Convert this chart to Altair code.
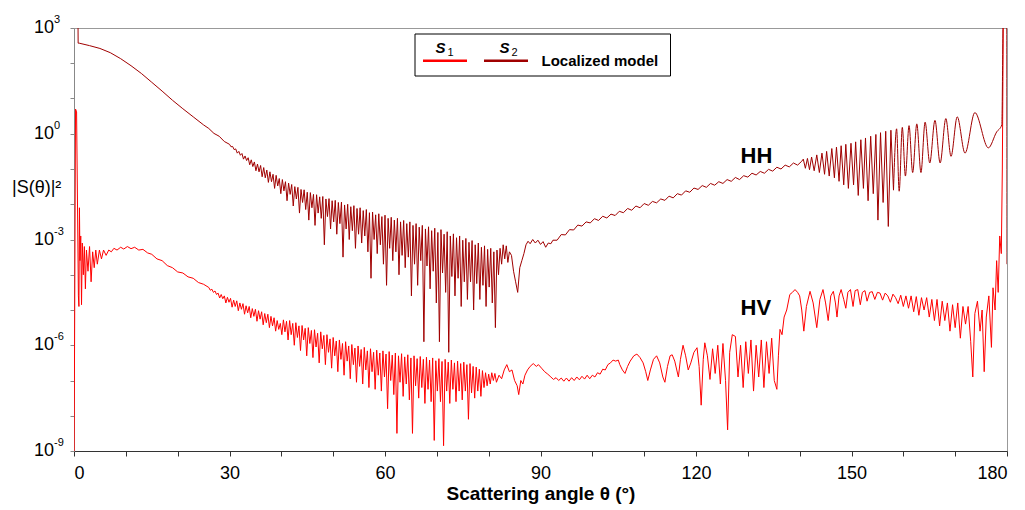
import altair as alt
import pandas as pd

# ---------------- data (log10 of |S(theta)|^2) ----------------
# HH (S2, dark red)
HH_HEAD = [(0.0, 3.6), (0.75, 3.6), (0.8, 2.57), (1, 2.57), (3, 2.5), (5, 2.42), (7, 2.3),
           (9, 2.13), (11, 1.93), (13, 1.71), (15, 1.46), (17, 1.21), (19, 0.95), (21, 0.71),
           (23, 0.48), (25, 0.25), (26, 0.15), (27, 0.01), (28, -0.07), (29, -0.22)]
HH_DENSE_START, HH_DENSE_STEP = 30.0, 0.3
HH_DENSE = [-0.30, -0.37, -0.36, -0.45, -0.43, -0.55, -0.50, -0.61, -0.56, -0.72,
            -0.63, -0.76, -0.68, -0.88, -0.74, -0.93, -0.80, -1.05, -0.86, -1.08,
            -0.90, -1.22, -0.96, -1.25, -1.03, -1.38, -1.08, -1.36, -1.15, -1.55,
            -1.18, -1.48, -1.27, -1.70, -1.30, -1.62, -1.36, -1.90, -1.40, -1.72,
            -1.44, -2.05, -1.50, -1.85, -1.52, -2.25, -1.58, -1.95, -1.59, -2.15,
            -1.66, -2.45, -1.67, -2.10, -1.72, -2.60, -1.73, -2.25, -1.79, -2.40,
            -1.78, -3.15, -1.85, -2.35, -1.84, -2.70, -1.90, -2.50, -1.89, -2.85,
            -1.95, -2.55, -1.94, -3.50, -2.02, -2.70, -2.00, -3.00, -2.07, -2.75,
            -2.04, -3.25, -2.12, -2.85, -2.10, -3.10, -2.18, -2.90, -2.15, -3.35,
            -2.24, -4.10, -2.22, -3.00, -2.30, -3.40, -2.27, -3.15, -2.35, -3.70,
            -2.31, -4.30, -2.40, -3.25, -2.37, -3.60, -2.45, -3.35, -2.40, -4.00,
            -2.50, -3.45, -2.46, -3.80, -2.55, -3.50, -2.50, -4.60, -2.60, -3.70,
            -2.55, -4.30, -2.65, -3.60, -2.60, -5.90, -2.70, -3.75, -2.64, -4.40,
            -2.75, -3.90, -2.68, -4.80, -2.80, -5.90, -2.72, -3.95, -2.85, -4.50,
            -2.78, -6.20, -2.90, -4.05, -2.84, -4.60, -2.95, -4.10, -2.90, -4.90,
            -3.02, -4.20, -2.97, -4.70, -3.08, -4.20, -3.03, -5.00, -3.15, -4.25,
            -3.10, -4.70, -3.22, -4.30, -3.18, -4.90, -3.28, -4.35, -3.25, -4.80,
            -3.35, -5.50, -3.30, -4.00, -3.25, -3.70, -3.15, -3.55, -3.18, -3.65]
HH_MID = [(84.0, -3.35), (84.4, -3.45), (84.8, -3.9), (85.2, -4.2), (85.6, -4.5), (86.0, -3.8),
          (86.4, -3.6), (86.8, -3.4), (87.2, -3.15), (87.6, -3.05), (88.0, -3.12), (88.5, -3.0),
          (89.0, -3.1), (89.5, -3.02), (90.0, -3.14), (90.5, -3.06), (91.0, -3.22), (91.5, -3.1),
          (92.0, -3.12)]
HH_RISE_START, HH_RISE_STEP = 92.4, 0.8
HH_RISE = [-3.02, -3.02, -2.86, -2.87, -2.72, -2.73, -2.59, -2.62, -2.50, -2.53,
           -2.41, -2.46, -2.34, -2.39, -2.28, -2.32, -2.20, -2.24, -2.12, -2.17,
           -2.05, -2.10, -1.98, -2.03, -1.92, -1.96, -1.85, -1.89, -1.77, -1.82,
           -1.70, -1.74, -1.62, -1.66, -1.54, -1.58, -1.47, -1.52, -1.41, -1.46,
           -1.36, -1.41, -1.30, -1.35, -1.24, -1.30, -1.19, -1.23, -1.12, -1.17,
           -1.07, -1.12, -1.01, -1.06, -0.95, -1.00, -0.89, -0.94, -0.83, -0.89, -0.78]
HH_TAIL = [(140.7, -0.72), (141.1, -0.98), (141.5, -0.7), (141.9, -1.02), (142.3, -0.66),
           (142.8, -1.05), (143.3, -0.6), (143.8, -1.1), (144.3, -0.55), (144.8, -1.15),
           (145.2, -0.5), (145.7, -1.2), (146.2, -0.42), (146.7, -1.25), (147.1, -0.38),
           (147.6, -1.35), (148.0, -0.34), (148.5, -1.45), (148.9, -0.3), (149.4, -1.55),
           (149.9, -0.27), (150.4, -1.45), (150.8, -0.23), (151.3, -1.75), (151.8, -0.17),
           (152.3, -1.55), (152.7, -0.12), (153.2, -1.9), (153.7, -0.07), (154.2, -1.7),
           (154.7, -0.02), (155.1, -2.45), (155.6, 0.03), (156.1, -1.95), (156.6, 0.07),
           (157.1, -2.63), (157.6, 0.1), (158.1, -1.6), (158.7, 0.14), (159.2, -1.63),
           (159.8, 0.18), (160.4, -1.2), (161.1, 0.23), (161.8, -1.1), (162.6, 0.28),
           (163.4, -1.1), (164.2, 0.33), (165.1, -0.83), (166.1, 0.38), (167.1, -0.83),
           (168.2, 0.43), (169.2, -0.64), (170.4, 0.48), (171.9, -0.55), (173.8, 0.6),
           (176.4, -0.4), (178.0, 0.05), (179.0, 0.25), (179.3, 3.6), (179.95, 3.6), (180.0, -3.7)]
HH_SMOOTH_FROM = 158.1   # from here on the HH lobes are drawn rounded

# HV (S1, red)
HV_HEAD_THETA = [0.0, 0.3, 0.5, 0.85, 0.95, 1.05, 1.15, 1.3, 1.45, 1.6,
                 1.8, 2.0, 2.2, 2.4, 2.7, 3.0, 3.3, 3.6, 3.9, 4.2,
                 4.5, 4.9, 5.3, 5.7, 6.2, 6.7, 7.2, 7.7, 8.3, 9.0,
                 9.6, 10.3, 11.0, 11.7, 12.5, 13.3, 14.2, 15.0, 16.0, 17.0,
                 18.0, 19.0, 20.0, 21.0, 22.0, 23.0, 24.0, 25.0]
HV_HEAD_LOG = [-9.8, 0.7, 0.62, -4.6, -4.9, -2.1, -3.6, -2.9, -4.85, -3.1,
               -4.0, -3.2, -4.4, -3.3, -3.9, -3.2, -4.2, -3.35, -3.8, -3.3,
               -3.7, -3.3, -3.55, -3.3, -3.45, -3.3, -3.35, -3.25, -3.3, -3.22,
               -3.27, -3.2, -3.26, -3.22, -3.3, -3.28, -3.38, -3.42, -3.55, -3.6,
               -3.74, -3.8, -3.92, -3.95, -4.06, -4.1, -4.22, -4.27]
HV_DENSE_START, HV_DENSE_STEP = 26.0, 0.3
HV_DENSE = [-4.36, -4.44, -4.41, -4.50, -4.46, -4.56, -4.52, -4.66, -4.56, -4.68,
            -4.60, -4.80, -4.64, -4.78, -4.67, -4.92, -4.72, -4.90, -4.74, -5.02,
            -4.80, -4.98, -4.82, -5.12, -4.88, -5.08, -4.90, -5.22, -4.96, -5.18,
            -4.98, -5.32, -5.02, -5.26, -5.05, -5.42, -5.10, -5.36, -5.12, -5.50,
            -5.18, -5.45, -5.22, -5.60, -5.30, -5.55, -5.38, -5.70, -5.28, -5.62,
            -5.32, -5.85, -5.30, -5.70, -5.38, -6.00, -5.36, -5.78, -5.45, -6.15,
            -5.44, -5.85, -5.52, -6.30, -5.50, -5.95, -5.58, -6.35, -5.56, -6.05,
            -5.66, -6.50, -5.62, -6.10, -5.72, -6.55, -5.70, -6.20, -5.82, -6.65,
            -5.78, -6.30, -5.88, -6.75, -5.85, -6.40, -5.95, -6.85, -5.90, -6.45,
            -6.02, -6.95, -5.98, -6.55, -6.08, -7.05, -6.02, -6.60, -6.12, -7.10,
            -6.06, -6.70, -6.16, -7.20, -6.10, -6.75, -6.20, -7.25, -6.14, -6.85,
            -6.22, -7.30, -6.16, -6.90, -6.25, -7.80, -6.18, -7.00, -6.28, -7.40,
            -6.22, -8.50, -6.30, -7.05, -6.24, -7.45, -6.33, -7.10, -6.27, -7.55,
            -6.36, -8.50, -6.30, -7.15, -6.38, -7.50, -6.32, -7.20, -6.40, -7.65,
            -6.34, -7.25, -6.42, -7.60, -6.36, -8.70, -6.44, -7.30, -6.38, -7.60,
            -6.46, -8.85, -6.40, -7.30, -6.48, -7.65, -6.42, -7.25, -6.50, -7.60,
            -6.45, -7.30, -6.52, -7.55, -6.48, -7.30, -6.55, -8.10, -6.52, -7.35,
            -6.60, -7.50, -6.62, -7.30, -6.68, -7.45, -6.72, -7.20, -6.78, -7.15,
            -6.82, -7.10, -6.78, -7.00, -6.80, -7.05]
HV_TAIL = [(82.0, -6.85), (82.5, -6.95), (83.0, -6.7), (83.5, -6.55), (84.0, -6.75), (84.5, -6.7),
           (85.0, -7.0), (85.5, -7.15), (85.8, -7.4), (86.2, -7.0), (86.6, -7.1), (87.0, -6.85),
           (87.5, -6.7), (88.0, -6.6), (88.6, -6.52), (89.2, -6.6), (89.6, -6.55), (90.2, -6.65),
           (90.8, -6.75), (91.4, -6.82), (92.0, -6.9), (92.5, -6.97), (93.0, -6.92), (93.5, -7.0),
           (94.0, -6.93), (94.5, -7.02), (95.0, -6.93), (95.5, -7.02), (96.0, -6.92), (96.5, -7.0),
           (97.0, -6.9), (97.5, -6.98), (98.0, -6.88), (98.5, -6.96), (99.0, -6.85), (99.5, -6.95),
           (100.0, -6.85), (100.5, -6.9), (101.0, -6.78), (101.5, -6.82), (102.0, -6.68),
           (102.5, -6.7), (103.0, -6.55), (103.5, -6.5), (104.0, -6.42), (104.5, -6.45),
           (105.0, -6.42), (105.3, -6.55), (105.8, -6.7), (106.3, -6.8), (106.8, -6.6),
           (107.3, -6.45), (108.0, -6.3), (108.6, -6.25), (109.2, -6.35), (109.8, -6.5),
           (110.3, -6.75), (110.7, -7.0), (111.2, -6.7), (111.8, -6.4), (112.4, -6.3),
           (113.0, -6.5), (113.6, -6.9), (114.0, -7.05), (114.5, -6.6), (115.0, -6.3),
           (115.4, -6.27), (115.9, -6.45), (116.6, -6.9), (117.0, -6.4), (117.5, -6.0),
           (118.0, -6.3), (118.5, -6.7), (119.0, -6.5), (119.6, -6.2), (120.2, -6.07),
           (120.6, -6.6), (121.0, -7.7), (121.4, -6.4), (121.7, -5.93), (122.2, -6.3),
           (122.7, -6.97), (123.2, -6.1), (123.7, -6.8), (124.2, -6.0), (124.7, -7.1),
           (125.2, -5.95), (125.7, -7.0), (126.1, -8.4), (126.5, -6.2), (127.0, -5.7),
           (127.6, -5.75), (128.1, -6.9), (128.6, -6.0), (129.1, -7.2), (129.6, -5.9),
           (130.1, -6.8), (130.6, -5.85), (131.1, -7.3), (131.6, -6.0), (132.1, -6.9),
           (132.6, -5.85), (133.1, -7.2), (133.6, -5.9), (134.1, -6.8), (134.6, -5.8),
           (135.1, -7.0), (135.6, -7.25), (135.9, -6.3), (136.2, -5.55), (136.6, -5.7),
           (137.0, -5.2), (137.5, -5.0), (138.1, -4.56), (138.6, -4.5), (139.1, -4.42),
           (139.6, -4.5), (140.0, -4.6), (140.4, -5.0), (140.8, -5.6), (141.3, -4.9),
           (142.0, -4.47), (142.6, -4.8), (143.3, -5.5), (143.9, -4.7), (144.5, -4.42),
           (145.0, -4.8), (145.5, -5.3), (146.0, -4.6), (146.5, -4.47), (146.9, -4.8),
           (147.2, -5.2), (147.6, -4.6), (148.0, -4.42), (148.5, -4.7), (148.9, -4.95),
           (149.3, -4.5), (149.8, -4.42), (150.3, -4.9), (150.7, -4.45), (151.2, -4.42),
           (151.7, -4.85), (152.1, -4.5), (152.6, -4.45), (153.0, -4.75), (153.5, -4.5),
           (154.0, -4.48), (154.5, -4.7), (155.0, -4.5), (155.5, -4.52), (156.0, -4.72),
           (156.5, -4.52), (157.0, -4.6), (157.5, -4.78), (158.0, -4.55), (158.5, -4.65),
           (159.0, -4.82), (159.5, -4.58), (160.0, -4.9), (160.5, -4.6), (161.0, -4.95),
           (161.5, -4.6), (162.0, -5.05), (162.5, -4.62), (163.0, -5.15), (163.5, -4.65),
           (164.0, -5.0), (164.5, -4.65), (165.0, -5.2), (165.5, -4.7), (166.0, -5.3),
           (166.5, -4.7), (167.0, -5.45), (167.5, -4.75), (168.0, -5.3), (168.5, -4.8),
           (169.0, -5.6), (169.5, -4.85), (170.0, -5.5), (170.5, -4.8), (171.0, -5.8),
           (171.5, -4.9), (172.0, -5.4), (172.5, -4.9), (173.0, -5.9), (173.4, -6.9),
           (173.8, -5.1), (174.3, -4.75), (174.8, -5.6), (175.2, -5.0), (175.6, -6.75),
           (176.0, -5.2), (176.5, -4.6), (177.0, -6.06), (177.3, -4.37), (177.7, -5.0),
           (178.0, -3.6), (178.3, -4.5), (178.6, -2.9), (178.9, -3.4), (179.1, -1.0),
           (179.3, 3.6), (179.9, 3.6)]

Y_LABEL_EXP = [3, 0, -3, -6, -9]
Y_TICK_EXP = list(range(-9, 4))
X_TICKS = list(range(0, 181, 10))
SERIES_LABELS = [("HH", 128.6, -0.83), ("HV", 128.6, -5.14)]

HH_COLOR = "#A00000"
HV_COLOR = "#FF0000"
FONT = "Liberation Sans"


def expand(start, step, vals):
    return [(round(start + i * step, 3), v) for i, v in enumerate(vals)]


hh_pts = (HH_HEAD + expand(HH_DENSE_START, HH_DENSE_STEP, HH_DENSE) + HH_MID
          + expand(HH_RISE_START, HH_RISE_STEP, HH_RISE) + HH_TAIL)
hv_pts = (list(zip(HV_HEAD_THETA, HV_HEAD_LOG)) + expand(HV_DENSE_START, HV_DENSE_STEP, HV_DENSE)
          + HV_TAIL)


def frame(pts):
    return pd.DataFrame({"theta": [p[0] for p in pts],
                         "value": [10.0 ** p[1] for p in pts],
                         "idx": list(range(len(pts)))})


hh_a = frame([p for p in hh_pts if p[0] <= HH_SMOOTH_FROM])
hh_b = frame([p for p in hh_pts if p[0] >= HH_SMOOTH_FROM])
hv_df = frame(hv_pts)

x_enc = alt.X("theta:Q",
              scale=alt.Scale(domain=[0, 180], nice=False, zero=False),
              axis=alt.Axis(values=X_TICKS, labelExpr="datum.value % 30 === 0 ? datum.label : ''",
                            tickSize=5, tickColor="#333333", domainColor="#333333",
                            labelFontSize=18, labelFont=FONT, labelColor="black", labelPadding=8,
                            title="Scattering angle θ (°)", titleFont=FONT, titleFontSize=19,
                            titleFontWeight="bold", titleColor="black", titlePadding=2,
                            grid=False, format="d"))
y_enc = alt.Y("value:Q",
              scale=alt.Scale(type="log", domain=[1e-9, 1e3], nice=False),
              axis=alt.Axis(values=[10.0 ** e for e in Y_TICK_EXP], labels=False, tickSize=4,
                            tickColor="#888888", domainColor="#888888", grid=False, title=None))

hv_line = alt.Chart(hv_df).mark_line(clip=True, strokeWidth=1, color=HV_COLOR).encode(
    x=x_enc, y=y_enc, order="idx:Q")
hh_line_a = alt.Chart(hh_a).mark_line(clip=True, strokeWidth=1, color=HH_COLOR).encode(
    x="theta:Q", y="value:Q", order="idx:Q")
hh_line_b = alt.Chart(hh_b).mark_line(clip=True, strokeWidth=1, color=HH_COLOR,
                                      interpolate="monotone").encode(
    x="theta:Q", y="value:Q", order="idx:Q")

ylab_df = pd.DataFrame({"value": [10.0 ** e for e in Y_LABEL_EXP],
                        "exp": [str(e) for e in Y_LABEL_EXP]})
ten = alt.Chart(ylab_df).mark_text(align="right", baseline="middle", fontSize=18, font=FONT,
                                   color="black").encode(
    x=alt.value(-20), y="value:Q", text=alt.value("10"))
expo = alt.Chart(ylab_df).mark_text(align="left", baseline="middle", fontSize=11, font=FONT,
                                    color="black", dy=-8).encode(
    x=alt.value(-20), y="value:Q", text="exp:N")

one = pd.DataFrame({"a": [0]})
ytitle = alt.Chart(one).mark_text(align="left", baseline="middle", fontSize=18, font=FONT,
                                  color="black").encode(
    x=alt.value(-62), y=alt.value(160), text=alt.value("|S(θ)|²"))

lab_df = pd.DataFrame({"label": [s[0] for s in SERIES_LABELS],
                       "theta": [s[1] for s in SERIES_LABELS],
                       "value": [10.0 ** s[2] for s in SERIES_LABELS]})
series_text = alt.Chart(lab_df).mark_text(align="left", baseline="alphabetic", fontSize=22,
                                          fontWeight="bold", font=FONT, color="black").encode(
    x="theta:Q", y="value:Q", text="label:N")

# legend box
box = alt.Chart(one).mark_rect(fill="white", stroke="black", strokeWidth=1).encode(
    x=alt.value(341), x2=alt.value(596.5), y=alt.value(6), y2=alt.value(48))
s1_line = alt.Chart(one).mark_rule(color=HV_COLOR, strokeWidth=2.5).encode(
    x=alt.value(349), x2=alt.value(393), y=alt.value(32.7))
s2_line = alt.Chart(one).mark_rule(color=HH_COLOR, strokeWidth=2.5).encode(
    x=alt.value(410), x2=alt.value(454), y=alt.value(32.7))
s1_s = alt.Chart(one).mark_text(align="left", baseline="alphabetic", fontSize=15, fontWeight="bold",
                                fontStyle="italic", font=FONT, color="black").encode(
    x=alt.value(361.5), y=alt.value(25), text=alt.value("S"))
s1_sub = alt.Chart(one).mark_text(align="left", baseline="alphabetic", fontSize=11, font=FONT,
                                  color="black").encode(
    x=alt.value(373.5), y=alt.value(28), text=alt.value("1"))
s2_s = alt.Chart(one).mark_text(align="left", baseline="alphabetic", fontSize=15, fontWeight="bold",
                                fontStyle="italic", font=FONT, color="black").encode(
    x=alt.value(425.5), y=alt.value(25), text=alt.value("S"))
s2_sub = alt.Chart(one).mark_text(align="left", baseline="alphabetic", fontSize=11, font=FONT,
                                  color="black").encode(
    x=alt.value(437.5), y=alt.value(28), text=alt.value("2"))
leg_text = alt.Chart(one).mark_text(align="left", baseline="alphabetic", fontSize=15,
                                    fontWeight="bold", font=FONT, color="black").encode(
    x=alt.value(467.5), y=alt.value(38), text=alt.value("Localized model"))

chart = alt.layer(hv_line, hh_line_a, hh_line_b, ten, expo, ytitle, series_text,
                  box, s1_line, s2_line, s1_s, s1_sub, s2_s, s2_sub, leg_text).properties(
    width=933, height=423,
    autosize=alt.AutoSizeParams(type="none"),
    padding={"left": 66, "top": 20, "right": 10, "bottom": 58},
    background="white",
).configure_view(stroke="#999999", strokeWidth=1)

chart.save("out.html", embed_options={"renderer": "svg", "actions": False})
